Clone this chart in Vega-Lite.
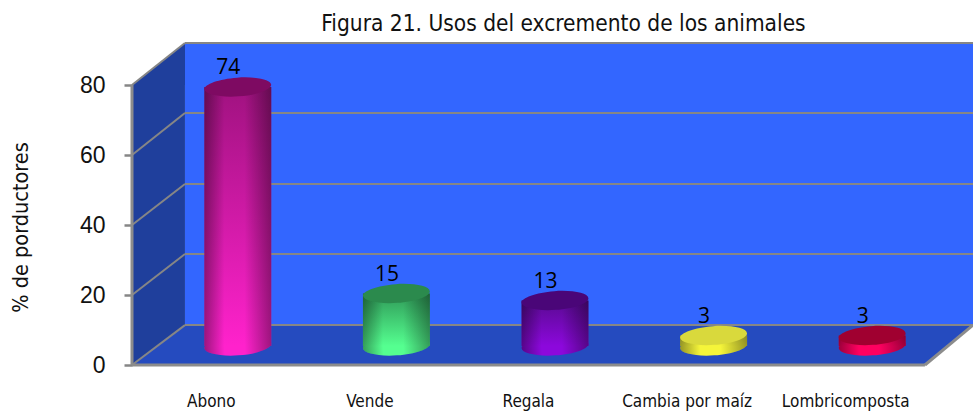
{
"$schema":"https://vega.github.io/schema/vega-lite/v6.json",
"width":841,"height":322,
"autosize":"none",
"padding":{"left":132,"right":0,"top":43,"bottom":49},
"background":"white",
"config":{"view":{"stroke":null}},
"title":{"text":"Figura 21.  Usos  del excremento de los animales","font":"DejaVu Sans Condensed, Liberation Sans","fontSize":22.5,"fontWeight":"normal","color":"#111111","offset":7,"dx":11},
"datasets":{
"marco":[
{"pieza":"fondo","x":0.334,"y":11.4,"y2":92},
{"pieza":"fondo","x":5.303,"y":11.4,"y2":92},
{"pieza":"izquierda","x":0,"y":0,"y2":80},
{"pieza":"izquierda","x":0.334,"y":11.4,"y2":92},
{"pieza":"piso","x":0,"y":0,"y2":0},
{"pieza":"piso","x":0.334,"y":0,"y2":11.4},
{"pieza":"piso","x":5,"y":0,"y2":11.4},
{"pieza":"piso","x":5.303,"y":11.4,"y2":11.4}
],
"lineas":[
{"tipo":"rejilla","x":0.334,"x2":5.303,"y":11.4,"y2":11.4},
{"tipo":"rejilla","x":0.334,"x2":5.303,"y":31.7,"y2":31.7},
{"tipo":"rejilla","x":0.334,"x2":5.303,"y":51.7,"y2":51.7},
{"tipo":"rejilla","x":0.334,"x2":5.303,"y":72,"y2":72},
{"tipo":"rejilla","x":0.334,"x2":5.303,"y":92,"y2":92},
{"tipo":"rejilla","x":0,"x2":0.334,"y":0,"y2":11.4},
{"tipo":"rejilla","x":0,"x2":0.334,"y":20,"y2":31.7},
{"tipo":"rejilla","x":0,"x2":0.334,"y":40,"y2":51.7},
{"tipo":"rejilla","x":0,"x2":0.334,"y":60,"y2":72},
{"tipo":"rejilla","x":0,"x2":0.334,"y":80,"y2":92},
{"tipo":"borde","x":0,"x2":0,"y":0,"y2":80},
{"tipo":"borde","x":0,"x2":5,"y":0,"y2":0},
{"tipo":"borde","x":5,"x2":5.303,"y":0,"y2":11.4}
],
"usos":[
{"uso":"Abono","valor":74},
{"uso":"Vende","valor":15},
{"uso":"Regala","valor":13},
{"uso":"Cambia por maíz","valor":3},
{"uso":"Lombricomposta","valor":3}
]
},
"resolve":{"scale":{"x":"independent"}},
"layer":[
{
"data":{"name":"marco"},
"encoding":{
"x":{"field":"x","type":"quantitative","scale":{"domain":[0,5.303],"nice":false,"zero":false},"axis":null},
"y":{"field":"y","type":"quantitative","stack":false,"scale":{"domain":[0,92],"nice":false,"zero":false},
"axis":{"values":[0,20,40,60,80],"grid":false,"domain":false,"tickColor":"#868686","tickSize":8,"tickWidth":2.5,"labelPadding":19,"labelFont":"Liberation Sans","labelFontSize":23,"labelColor":"#111111","title":"% de porductores","titleFont":"DejaVu Sans Condensed, Liberation Sans","titleFontSize":21.5,"titleFontWeight":"normal","titleColor":"#111111","titleX":-100,"titleY":184}},
"y2":{"field":"y2"}
},
"layer":[
{"transform":[{"filter":"datum.pieza==='fondo'"}],"mark":{"type":"area","color":"#3366ff","opacity":1}},
{"transform":[{"filter":"datum.pieza==='izquierda'"}],"mark":{"type":"area","color":"#1f3f9c","opacity":1}},
{"transform":[{"filter":"datum.pieza==='piso'"}],"mark":{"type":"area","color":"#254bbf","opacity":1}}
]
},
{
"data":{"name":"lineas"},
"encoding":{
"x":{"field":"x","type":"quantitative","scale":{"domain":[0,5.303],"nice":false,"zero":false},"axis":null},
"x2":{"field":"x2"},
"y":{"field":"y","type":"quantitative"},
"y2":{"field":"y2"}
},
"layer":[
{"transform":[{"filter":"datum.tipo==='rejilla'"}],"mark":{"type":"rule","color":"#868686","strokeWidth":2}},
{"transform":[{"filter":"datum.tipo==='borde'"}],"mark":{"type":"rule","color":"#8c8c8c","strokeWidth":3}}
]
},
{
"data":{"name":"usos"},
"resolve":{"scale":{"fill":"independent"}},
"encoding":{
"x":{"field":"uso","type":"nominal","sort":null,"title":null,
"scale":{"domain":["Abono","Vende","Regala","Cambia por maíz","Lombricomposta"],"range":[0,793],"paddingInner":0.578,"paddingOuter":0.289},
"axis":{"domain":false,"ticks":false,"labelAngle":0,"labelPadding":36,"labelFont":"DejaVu Sans Condensed, Liberation Sans","labelFontSize":17,"labelColor":"#111111","labelLimit":300,"labelOverlap":false,"labelBaseline":"middle","grid":false}},
"y":{"field":"valor","type":"quantitative"}
},
"layer":[
{"mark":{"type":"point","filled":true,"opacity":1,"size":4489,"yOffset":-19,"xOffset":26.5,"angle":-4,"shape":"M-1,0C-1,-0.15 -0.55,-0.28 0,-0.28C0.55,-0.28 1,-0.15 1,0C1,0.15 0.55,0.28 0,0.28C-0.55,0.28 -1,0.15 -1,0Z"},
"encoding":{"y":{"datum":0,"type":"quantitative"},
"fill":{"field":"uso","type":"nominal","legend":null,"sort":null,"scale":{"domain":["Abono","Vende","Regala","Cambia por maíz","Lombricomposta"],"range":["#ff22cc","#55ff90","#8c08dc","#f5f53a","#ff0060"]}}}},
{"mark":{"type":"point","filled":true,"opacity":1,"size":4489,"yOffset":-19,"xOffset":26.5,"angle":-4,"shape":"M-1,0C-1,-0.15 -0.55,-0.28 0,-0.28C0.55,-0.28 1,-0.15 1,0C1,0.15 0.55,0.28 0,0.28C-0.55,0.28 -1,0.15 -1,0Z","fill":{"gradient":"linear","x1":0,"y1":0,"x2":1,"y2":0,"stops":[{"offset":0,"color":"rgba(0,0,0,0.38)"},{"offset":0.3,"color":"rgba(0,0,0,0)"},{"offset":0.6,"color":"rgba(0,0,0,0)"},{"offset":1,"color":"rgba(0,0,0,0.38)"}]}},
"encoding":{"y":{"datum":0,"type":"quantitative"}}},
{"transform":[{"filter":"datum.uso==='Abono'"}],"mark":{"type":"rect","xOffset":26.5,"x2Offset":26.5,"yOffset":-19,"y2Offset":-19,"fill":{"gradient":"linear","x1":0,"y1":0,"x2":0,"y2":1,"stops":[{"offset":0,"color":"#a01280"},{"offset":1,"color":"#ff22cc"}]}},"encoding":{"y2":{"datum":0}}},
{"transform":[{"filter":"datum.uso==='Vende'"}],"mark":{"type":"rect","xOffset":26.5,"x2Offset":26.5,"yOffset":-19,"y2Offset":-19,"fill":{"gradient":"linear","x1":0,"y1":0,"x2":0,"y2":1,"stops":[{"offset":0,"color":"#2f9a58"},{"offset":1,"color":"#55ff90"}]}},"encoding":{"y2":{"datum":0}}},
{"transform":[{"filter":"datum.uso==='Regala'"}],"mark":{"type":"rect","xOffset":26.5,"x2Offset":26.5,"yOffset":-19,"y2Offset":-19,"fill":{"gradient":"linear","x1":0,"y1":0,"x2":0,"y2":1,"stops":[{"offset":0,"color":"#5a0a92"},{"offset":1,"color":"#8c08dc"}]}},"encoding":{"y2":{"datum":0}}},
{"transform":[{"filter":"datum.uso==='Cambia por maíz'"}],"mark":{"type":"rect","xOffset":26.5,"x2Offset":26.5,"yOffset":-19,"y2Offset":-19,"fill":{"gradient":"linear","x1":0,"y1":0,"x2":0,"y2":1,"stops":[{"offset":0,"color":"#e0e040"},{"offset":1,"color":"#f5f53a"}]}},"encoding":{"y2":{"datum":0}}},
{"transform":[{"filter":"datum.uso==='Lombricomposta'"}],"mark":{"type":"rect","xOffset":26.5,"x2Offset":26.5,"yOffset":-19,"y2Offset":-19,"fill":{"gradient":"linear","x1":0,"y1":0,"x2":0,"y2":1,"stops":[{"offset":0,"color":"#e00050"},{"offset":1,"color":"#ff0060"}]}},"encoding":{"y2":{"datum":0}}},
{"mark":{"type":"rect","xOffset":26.5,"x2Offset":26.5,"yOffset":-19,"y2Offset":-19,
"fill":{"gradient":"linear","x1":0,"y1":0,"x2":1,"y2":0,"stops":[{"offset":0,"color":"rgba(0,0,0,0.38)"},{"offset":0.3,"color":"rgba(0,0,0,0)"},{"offset":0.6,"color":"rgba(0,0,0,0)"},{"offset":1,"color":"rgba(0,0,0,0.38)"}]}},
"encoding":{"y2":{"datum":0}}},
{"mark":{"type":"point","filled":true,"opacity":1,"size":4489,"yOffset":-19,"xOffset":26.5,"angle":-4,"shape":"M-1,0C-1,-0.15 -0.55,-0.28 0,-0.28C0.55,-0.28 1,-0.15 1,0C1,0.15 0.55,0.28 0,0.28C-0.55,0.28 -1,0.15 -1,0Z"},
"encoding":{
"fill":{"field":"uso","type":"nominal","legend":null,"sort":null,"scale":{"domain":["Abono","Vende","Regala","Cambia por maíz","Lombricomposta"],"range":["#7e0a62","#2b8a4d","#4a0678","#d9d93c","#a00030"]}}}},
{"mark":{"type":"text","font":"Open Sans","fontSize":21,"color":"#000000","baseline":"middle","xOffset":17,"yOffset":-38},
"encoding":{"text":{"field":"valor","type":"quantitative"}}}
]
}
]
}
